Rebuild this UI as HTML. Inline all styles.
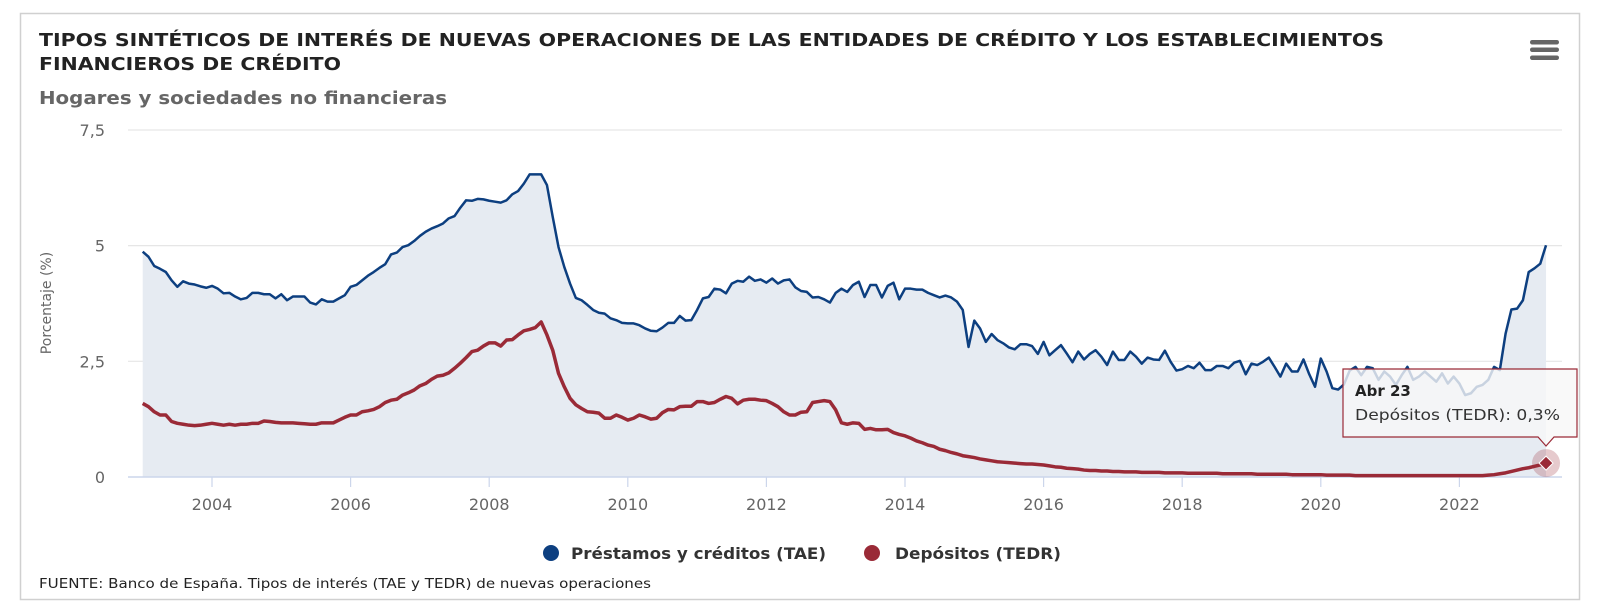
<!DOCTYPE html>
<html><head><meta charset="utf-8"><style>
html,body{margin:0;padding:0;background:#fff;}
svg{display:block;font-family:"DejaVu Sans","Liberation Sans",sans-serif;}
</style></head><body>
<svg id="chart" width="1600" height="615" viewBox="0 0 1600 615">
<rect x="20.5" y="13.5" width="1559" height="586" fill="#fff" stroke="#d0d0d0" stroke-width="1.5"/>
<text x="39" y="46" font-size="18" font-weight="bold" fill="#222" textLength="1345" lengthAdjust="spacingAndGlyphs">TIPOS SINTÉTICOS DE INTERÉS DE NUEVAS OPERACIONES DE LAS ENTIDADES DE CRÉDITO Y LOS ESTABLECIMIENTOS</text>
<text x="39" y="70" font-size="18" font-weight="bold" fill="#222" textLength="302" lengthAdjust="spacingAndGlyphs">FINANCIEROS DE CRÉDITO</text>
<text x="39" y="104" font-size="18" font-weight="bold" fill="#666" textLength="408" lengthAdjust="spacingAndGlyphs">Hogares y sociedades no financieras</text>
<g>
<rect x="1530" y="40" width="29" height="4.5" rx="2.2" fill="#666"/>
<rect x="1530" y="47.5" width="29" height="4.5" rx="2.2" fill="#666"/>
<rect x="1530" y="55.5" width="29" height="4.5" rx="2.2" fill="#666"/>
</g>
<g id="grid"></g>
<path id="area" fill="#e6ebf2"/>
<g id="axes"></g>
<path id="loans" fill="none" stroke="#0d3f80" stroke-width="2.5" stroke-linejoin="round"/>
<path id="deposits" fill="none" stroke="#9a2a37" stroke-width="3.5" stroke-linejoin="round"/>
<text x="51" y="303" font-size="14" fill="#666" text-anchor="middle" transform="rotate(-90 51 303)">Porcentaje (%)</text>
<g>
<circle cx="551" cy="553" r="8" fill="#0d3f80"/>
<text x="571" y="559" font-size="16" font-weight="bold" fill="#333" textLength="255" lengthAdjust="spacingAndGlyphs">Préstamos y créditos (TAE)</text>
</g>
<g>
<circle cx="872" cy="553" r="8" fill="#9a2a37"/>
<text x="895" y="559" font-size="16" font-weight="bold" fill="#333" textLength="166" lengthAdjust="spacingAndGlyphs">Depósitos (TEDR)</text>
</g>
<text x="39" y="588" font-size="13.5" fill="#222" textLength="612" lengthAdjust="spacingAndGlyphs">FUENTE: Banco de España. Tipos de interés (TAE y TEDR) de nuevas operaciones</text>
<g id="tip"></g>
</svg>
<script>
const startYear = 2003;
const yTicks = [0, 2.5, 5, 7.5];
const yTickLabels = ["0", "2,5", "5", "7,5"];
const xTickYears = [2004, 2006, 2008, 2010, 2012, 2014, 2016, 2018, 2020, 2022];
const loans = [4.87,4.76,4.56,4.5,4.43,4.25,4.11,4.23,4.18,4.16,4.12,4.09,
4.13,4.07,3.97,3.98,3.9,3.84,3.87,3.98,3.98,3.95,3.95,3.86,
3.95,3.82,3.9,3.9,3.9,3.77,3.73,3.84,3.79,3.79,3.86,3.93,
4.11,4.15,4.25,4.35,4.43,4.52,4.6,4.81,4.85,4.97,5.01,5.1,
5.21,5.3,5.37,5.42,5.48,5.59,5.64,5.82,5.98,5.97,6.01,6.0,
5.97,5.95,5.93,5.98,6.11,6.18,6.34,6.54,6.54,6.54,6.31,5.62,
4.97,4.54,4.18,3.87,3.82,3.72,3.61,3.55,3.53,3.43,3.39,3.33,
3.32,3.32,3.28,3.21,3.16,3.15,3.23,3.33,3.33,3.48,3.38,3.39,
3.61,3.86,3.89,4.07,4.05,3.97,4.18,4.24,4.22,4.33,4.24,4.27,
4.2,4.29,4.18,4.25,4.27,4.1,4.02,4.0,3.88,3.89,3.84,3.77,
3.98,4.07,4.0,4.15,4.22,3.89,4.15,4.15,3.88,4.13,4.2,3.84,
4.07,4.07,4.05,4.05,3.98,3.93,3.88,3.92,3.88,3.79,3.61,2.81,
3.38,3.21,2.92,3.09,2.96,2.89,2.8,2.76,2.87,2.87,2.83,2.66,
2.92,2.63,2.74,2.85,2.67,2.48,2.71,2.54,2.66,2.74,2.6,2.42,
2.71,2.53,2.53,2.71,2.6,2.45,2.58,2.54,2.53,2.73,2.49,2.3,
2.33,2.4,2.35,2.47,2.31,2.31,2.4,2.4,2.35,2.47,2.51,2.22,
2.45,2.42,2.49,2.58,2.38,2.17,2.45,2.28,2.28,2.54,2.22,1.95,
2.56,2.28,1.92,1.89,2.0,2.3,2.38,2.2,2.38,2.35,2.1,2.28,
2.17,1.99,2.2,2.38,2.1,2.17,2.28,2.17,2.06,2.24,2.02,2.17,
2.02,1.77,1.81,1.95,1.99,2.1,2.38,2.31,3.1,3.62,3.64,3.82,
4.43,4.51,4.61,5.01];
const deposits = [1.59,1.52,1.41,1.34,1.34,1.2,1.16,1.14,1.12,1.11,1.12,1.14,
1.16,1.14,1.12,1.14,1.12,1.14,1.14,1.16,1.16,1.21,1.2,1.18,
1.17,1.17,1.17,1.16,1.15,1.14,1.14,1.17,1.17,1.17,1.23,1.29,
1.34,1.34,1.41,1.43,1.46,1.52,1.61,1.66,1.68,1.77,1.82,1.88,
1.97,2.02,2.11,2.18,2.2,2.25,2.35,2.46,2.58,2.71,2.74,2.83,
2.9,2.9,2.83,2.96,2.97,3.07,3.16,3.19,3.23,3.35,3.07,2.74,
2.24,1.95,1.7,1.56,1.48,1.41,1.4,1.38,1.27,1.27,1.34,1.29,
1.23,1.27,1.34,1.3,1.25,1.27,1.39,1.46,1.45,1.52,1.53,1.53,
1.63,1.63,1.59,1.61,1.68,1.74,1.7,1.58,1.66,1.68,1.68,1.66,
1.65,1.59,1.52,1.41,1.34,1.34,1.4,1.41,1.61,1.63,1.65,1.63,
1.45,1.17,1.14,1.17,1.16,1.03,1.05,1.02,1.02,1.03,0.96,0.92,
0.89,0.84,0.78,0.74,0.69,0.66,0.6,0.57,0.53,0.5,0.46,0.44,
0.42,0.39,0.37,0.35,0.33,0.32,0.31,0.3,0.29,0.28,0.28,0.27,
0.26,0.24,0.22,0.21,0.19,0.18,0.17,0.15,0.14,0.14,0.13,0.13,
0.12,0.12,0.11,0.11,0.11,0.10,0.10,0.10,0.10,0.09,0.09,0.09,
0.09,0.08,0.08,0.08,0.08,0.08,0.08,0.07,0.07,0.07,0.07,0.07,
0.07,0.06,0.06,0.06,0.06,0.06,0.06,0.05,0.05,0.05,0.05,0.05,
0.05,0.04,0.04,0.04,0.04,0.04,0.03,0.03,0.03,0.03,0.03,0.03,
0.03,0.03,0.03,0.03,0.03,0.03,0.03,0.03,0.03,0.03,0.03,0.03,
0.03,0.03,0.03,0.03,0.03,0.04,0.05,0.07,0.09,0.12,0.15,0.18,
0.2,0.23,0.26,0.3];
const tooltipTitle = "Abr 23";
const tooltipText = "Depósitos (TEDR): 0,3%";

const NS = "http://www.w3.org/2000/svg";
const plotL = 128, plotR = 1562, y0px = 477, unitPx = 46.27;
const x0 = 142.7, monthPx = 5.775;
const xM = m => x0 + m * monthPx;
const xYear = yr => xM((yr - startYear) * 12);
const yV = v => y0px - v * unitPx;
function mk(tag, attrs, parent) { const e = document.createElementNS(NS, tag); for (const k in attrs) e.setAttribute(k, attrs[k]); parent.appendChild(e); return e; }

const grid = document.getElementById('grid');
yTicks.forEach((t, i) => {
  if (t > 0) {
    const l = mk('line', {x1: plotL, x2: plotR, y1: yV(t), y2: yV(t), stroke: '#e6e6e6', 'stroke-width': 1.2}, grid);
    
    
  }
  const tx = mk('text', {x: 105, y: yV(t) + 6, 'font-size': 16, fill: '#666', 'text-anchor': 'end'}, grid);
  tx.textContent = yTickLabels[i];
  
  
});
const axes = document.getElementById('axes');
const ax = mk('line', {x1: plotL, x2: plotR, y1: y0px, y2: y0px, stroke: '#ccd6eb', 'stroke-width': 1.5}, axes);


xTickYears.forEach(yr => {
  const x = xYear(yr);
  const tk = mk('line', {x1: x, x2: x, y1: y0px, y2: y0px + 10, stroke: '#ccd6eb', 'stroke-width': 1.2}, axes);
  
  
  const tx = mk('text', {x: x, y: 510, 'font-size': 16, fill: '#666', 'text-anchor': 'middle'}, axes);
  tx.textContent = String(yr);
  
  
});
function linePath(arr) { return arr.map((v, i) => (i ? 'L' : 'M') + xM(i).toFixed(2) + ',' + yV(v).toFixed(2)).join(''); }
document.getElementById('loans').setAttribute('d', linePath(loans));
document.getElementById('deposits').setAttribute('d', linePath(deposits));
document.getElementById('area').setAttribute('d', linePath(loans) + 'L' + xM(loans.length - 1) + ',' + y0px + 'L' + xM(0) + ',' + y0px + 'Z');

const tip = document.getElementById('tip');
const li = deposits.length - 1, px = xM(li), py = yV(deposits[li]);
const halo = mk('circle', {cx: px, cy: py, r: 14, fill: 'rgba(154,42,55,0.25)'}, tip);


const dm = mk('path', {d: `M${px},${py-7}L${px+7},${py}L${px},${py+7}L${px-7},${py}Z`, fill: '#9a2a37', stroke: '#fff', 'stroke-width': 1}, tip);


const bx = 1343, by = 369, bw = 234, bh = 68;
const box = mk('path', {d: `M${bx},${by}H${bx+bw}V${by+bh}H${px+8}L${px},${by+bh+9}L${px-8},${by+bh}H${bx}Z`, fill: 'rgba(247,247,247,0.8)', stroke: '#9a2a37', 'stroke-width': 1.2}, tip);


const t1 = mk('text', {x: 1355, y: 396, 'font-size': 15, 'font-weight': 'bold', fill: '#222'}, tip);
t1.textContent = tooltipTitle;


const t2 = mk('text', {x: 1355, y: 420, 'font-size': 15, fill: '#333', textLength: 205, lengthAdjust: 'spacingAndGlyphs'}, tip);
t2.textContent = tooltipText;


</script>
</body></html>
